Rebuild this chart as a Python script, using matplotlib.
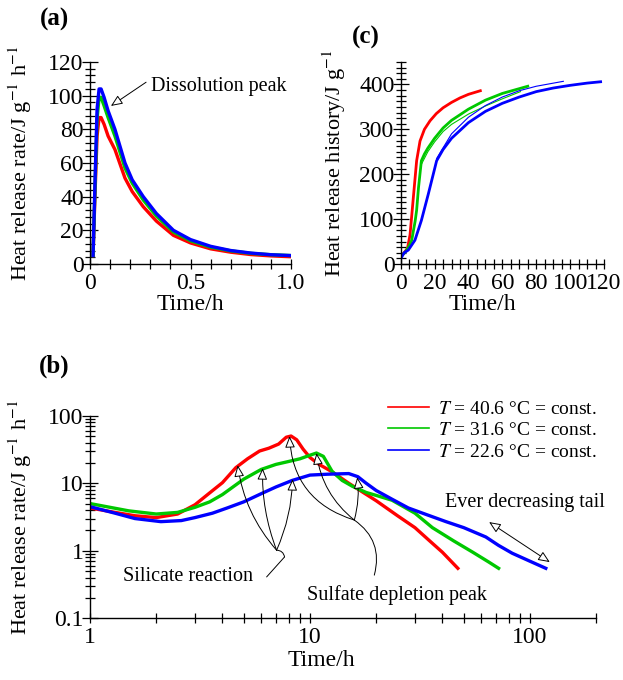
import matplotlib
matplotlib.use("Agg")
import matplotlib.pyplot as plt
from matplotlib import ticker

plt.rcParams["font.family"] = ["Liberation Serif", "DejaVu Serif"]
plt.rcParams["mathtext.fontset"] = "stix"

RED = "#ff0000"
GREEN = "#00c800"
BLUE = "#0000ff"

# (a) dissolution peak, time in h, rate in J/(g h)
t_a = [0.015, 0.025, 0.035, 0.045, 0.055, 0.07, 0.09, 0.124, 0.174, 0.21, 0.265, 0.33, 0.415,
       0.5, 0.6, 0.7, 0.8, 0.9, 1.0]
red_a = [5, 42, 76, 87, 87, 83, 76, 68, 51, 43, 34, 25.5, 17, 12.5, 9, 7, 5.6, 4.8, 4.3]
green_a = [5, 46, 86, 99, 99, 94, 87, 76, 57, 48, 38, 28.5, 19, 13.8, 10, 7.8, 6.3, 5.5, 5.0]
blue_a = [5, 50, 92, 104, 104, 99, 91, 80, 60, 50, 40, 30, 20, 14.5, 10.5, 8, 6.5, 5.5, 5.0]

# (b) full history on log-log axes
t_red_b = [1.0, 1.3, 1.6, 2.0, 2.5, 3.0, 3.5, 4.0, 4.6, 5.2, 5.9, 6.5, 7.2, 7.8, 8.2, 8.7,
           9.3, 10, 11, 12.5, 15, 20, 25, 30, 35, 40, 47]
red_b = [4.3, 3.7, 3.3, 3.1, 3.5, 4.8, 7.2, 10.2, 17, 23, 30, 33, 38, 48, 50, 44,
         32, 24, 19, 15, 10, 5.5, 3.3, 2.2, 1.4, 0.95, 0.55]
t_green_b = [1.0, 1.5, 2.0, 2.5, 3.0, 3.5, 4.0, 5.0, 6.0, 7.0, 8.0, 9.0, 10, 10.7, 11.5,
             12.6, 14, 15.6, 18, 20, 23.6, 30, 36, 45, 55, 65, 72]
green_b = [5.0, 3.9, 3.5, 3.7, 4.4, 5.3, 6.8, 11.5, 16, 19, 21, 23, 26, 28, 25,
           15, 11, 9.0, 7.3, 6.6, 5.6, 3.6, 2.2, 1.4, 0.95, 0.68, 0.55]
t_blue_b = [1.0, 1.3, 1.6, 2.1, 2.6, 3.0, 3.6, 4.2, 5.0, 6.0, 7.0, 8.3, 10, 12, 15, 16.5,
            18, 20, 23.6, 28, 35, 41.5, 50, 63, 72, 83, 100, 118]
blue_b = [4.5, 3.6, 3.0, 2.7, 2.8, 3.1, 3.6, 4.3, 5.3, 7.0, 8.8, 11, 13.2, 13.6, 13.9, 12.5,
          10, 7.8, 5.8, 4.3, 3.3, 2.7, 2.2, 1.6, 1.2, 0.92, 0.7, 0.55]

# (c) cumulative heat, J/g
t_red_c = [0.5, 2, 4, 5.5, 7.5, 9.4, 11.4, 14, 17.3, 21, 25, 30, 35, 40, 47]
red_c = [18, 25, 35, 65, 150, 230, 274, 300, 319, 335, 348, 360, 370, 378, 386]
t_green_c = [0.5, 3, 5, 6.5, 8.5, 9.4, 10.5, 12.2, 14, 16, 20, 25, 30, 40, 50, 60, 75]
green_c = [18, 28, 40, 53, 95, 120, 170, 230, 245, 258, 280, 303, 320, 345, 365, 380, 396]
t_green_c2 = [12.2, 16, 20, 25, 30, 40, 50, 60, 70.7]
green_c2 = [222, 250, 272, 295, 311, 334, 352, 368, 384]
t_blue_c = [0.5, 2, 4.5, 8.4, 12.2, 16.3, 21.2, 25, 30, 40, 50, 60, 70, 80, 90, 100, 110, 118]
blue_c = [15, 25, 31, 53, 97, 156, 230, 255, 280, 315, 340, 358, 372, 384, 392, 398, 403, 406]
t_blue_c2 = [21.2, 30, 40, 50, 60, 70, 80, 96]
blue_c2 = [235, 290, 327, 353, 372, 386, 396, 407]

labels_b = ["$T$ = 40.6 °C = const.", "$T$ = 31.6 °C = const.", "$T$ = 22.6 °C = const."]

TICK_FS = 17
LABEL_FS = 17
NOTE_FS = 14.5


def style_axes(ax):
    for side in ["top", "right"]:
        ax.spines[side].set_visible(False)
    for side in ["left", "bottom"]:
        ax.spines[side].set_linewidth(1.0)
    ax.tick_params(which="both", direction="inout", width=0.9, labelsize=TICK_FS)
    ax.tick_params(axis="y", which="major", length=11, pad=-1)
    ax.tick_params(axis="y", which="minor", length=7)
    ax.tick_params(axis="x", which="both", length=7, pad=3)


fig = plt.figure(figsize=(6.23, 6.8), dpi=100)
ax_a = fig.add_axes([0.1445, 0.6118, 0.3226, 0.297])
ax_c = fig.add_axes([0.6432, 0.6118, 0.3263, 0.297])
ax_b = fig.add_axes([0.1445, 0.0907, 0.8125, 0.298])

open_head = dict(arrowstyle="-|>,head_length=0.7,head_width=0.3", fc="white", ec="black", lw=0.7,
                 shrinkA=0, shrinkB=0)

# panel (a)
lw_a = 2.4
ax_a.plot(t_a, red_a, color=RED, lw=lw_a)
ax_a.plot(t_a, green_a, color=GREEN, lw=lw_a)
ax_a.plot(t_a, blue_a, color=BLUE, lw=lw_a)
ax_a.set_xlim(0, 1.0)
ax_a.set_ylim(0, 120)
ax_a.xaxis.set_major_locator(ticker.FixedLocator([0, 0.5, 1.0]))
ax_a.set_xticklabels(["0", "0.5", "1.0"])
ax_a.xaxis.set_minor_locator(ticker.MultipleLocator(0.1))
ax_a.yaxis.set_major_locator(ticker.MultipleLocator(20))
ax_a.yaxis.set_minor_locator(ticker.MultipleLocator(4))
style_axes(ax_a)
ax_a.set_xlabel("Time/h", fontsize=LABEL_FS)
ax_a.xaxis.set_label_coords(0.5, -0.15)
ax_a.set_ylabel("Heat release rate/J g$^{-1}$ h$^{-1}$", fontsize=16)
ax_a.yaxis.set_label_coords(-0.28, 0.5)
ax_a.text(0.303, 105.7, "Dissolution peak", fontsize=NOTE_FS, va="center")
ax_a.annotate("", xy=(0.104, 93.9), xytext=(0.279, 108), arrowprops=open_head)
fig.text(0.064, 0.971, "(a)", fontsize=18, fontweight="bold", va="center")

# panel (c)
lw_c = 2.0
ax_c.plot(t_red_c, red_c, color=RED, lw=lw_c)
ax_c.plot(t_green_c, green_c, color=GREEN, lw=lw_c)
ax_c.plot(t_green_c2, green_c2, color=GREEN, lw=0.8)
ax_c.plot(t_blue_c, blue_c, color=BLUE, lw=lw_c)
ax_c.plot(t_blue_c2, blue_c2, color=BLUE, lw=0.8)
ax_c.set_xlim(0, 120)
ax_c.set_ylim(0, 450)
ax_c.xaxis.set_major_locator(ticker.MultipleLocator(20))
ax_c.xaxis.set_minor_locator(ticker.MultipleLocator(5))
ax_c.yaxis.set_major_locator(ticker.FixedLocator([0, 100, 200, 300, 400]))
ax_c.yaxis.set_minor_locator(ticker.MultipleLocator(12.5))
style_axes(ax_c)
ax_c.set_xlabel("Time/h", fontsize=LABEL_FS)
ax_c.xaxis.set_label_coords(0.4, -0.15)
ax_c.set_ylabel("Heat release history/J g$^{-1}$", fontsize=16)
ax_c.yaxis.set_label_coords(-0.26, 0.5)
fig.text(0.565, 0.945, "(c)", fontsize=18, fontweight="bold", va="center")

# panel (b)
lw_b = 2.4
ax_b.plot(t_red_b, red_b, color=RED, lw=lw_b)
ax_b.plot(t_green_b, green_b, color=GREEN, lw=lw_b)
ax_b.plot(t_blue_b, blue_b, color=BLUE, lw=lw_b)
ax_b.set_xscale("log")
ax_b.set_yscale("log")
ax_b.set_xlim(1, 200)
ax_b.set_ylim(0.1, 100)
ax_b.xaxis.set_major_locator(ticker.FixedLocator([1, 10, 100]))
ax_b.set_xticklabels(["1", "10", "100"])
ax_b.xaxis.set_minor_locator(ticker.LogLocator(base=10, subs=range(2, 10)))
ax_b.xaxis.set_minor_formatter(ticker.NullFormatter())
ax_b.yaxis.set_major_locator(ticker.FixedLocator([0.1, 1, 10, 100]))
ax_b.set_yticklabels(["0.1", "1", "10", "100"])
ax_b.yaxis.set_minor_locator(ticker.LogLocator(base=10, subs=range(2, 10)))
ax_b.yaxis.set_minor_formatter(ticker.NullFormatter())
style_axes(ax_b)
ax_b.set_xlabel("Time/h", fontsize=LABEL_FS)
ax_b.xaxis.set_label_coords(0.458, -0.155)
ax_b.set_ylabel("Heat release rate/J g$^{-1}$ h$^{-1}$", fontsize=16)
ax_b.yaxis.set_label_coords(-0.111, 0.5)
fig.text(0.063, 0.462, "(b)", fontsize=18, fontweight="bold", va="center")

leg = ax_b.legend(labels_b, loc="upper right", bbox_to_anchor=(1.016, 1.115), frameon=False,
                  fontsize=14, handlelength=2.1, handletextpad=0.45, labelspacing=0.2,
                  borderaxespad=0)
for line in leg.get_lines():
    line.set_linewidth(1.2)

thin = dict(arrowstyle="-", color="black", lw=0.7, shrinkA=0, shrinkB=0)

# silicate reaction leaders
sil_join = (7.05, 1.02)
for tip, rad in [((4.69, 18.5), -0.15), ((6.09, 16.7), -0.1), ((8.33, 11.5), 0.1)]:
    ax_b.annotate("", xy=tip, xytext=sil_join,
                  arrowprops=dict(open_head, connectionstyle=f"arc3,rad={rad}"))
ax_b.annotate("", xy=sil_join, xytext=(7.66, 0.81), arrowprops=dict(thin, connectionstyle="arc3,rad=0.4"))
ax_b.annotate("", xy=(7.66, 0.81), xytext=(6.35, 0.41), arrowprops=thin)
ax_b.text(1.41, 0.41, "Silicate reaction", fontsize=NOTE_FS, va="center")

# sulfate depletion leaders
sul_join = (15.9, 2.85)
for tip, rad in [((8.07, 49.8), -0.35), ((10.7, 27.9), -0.2), ((16.4, 12.3), 0.1)]:
    ax_b.annotate("", xy=tip, xytext=sul_join,
                  arrowprops=dict(open_head, connectionstyle=f"arc3,rad={rad}"))
ax_b.annotate("", xy=sul_join, xytext=(19.6, 0.436), arrowprops=dict(thin, connectionstyle="arc3,rad=0.35"))
ax_b.text(9.64, 0.22, "Sulfate depletion peak", fontsize=NOTE_FS, va="center")

# tail
ax_b.text(41.2, 5.25, "Ever decreasing tail", fontsize=NOTE_FS, va="center")
ax_b.annotate("", xy=(123, 0.68), xytext=(65.2, 2.66),
              arrowprops=dict(arrowstyle="<|-|>,head_length=0.7,head_width=0.3", fc="white",
                              ec="black", lw=0.7, shrinkA=0, shrinkB=0))

fig.savefig("out.png", dpi=100)
